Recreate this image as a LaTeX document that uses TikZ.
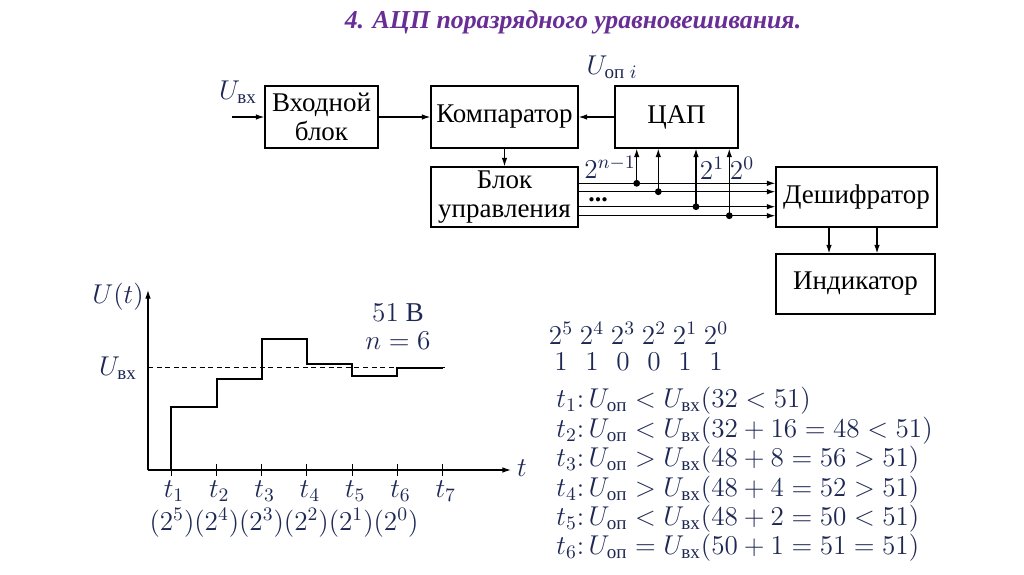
\RequirePackage{fix-cm}
\documentclass[tikz,border=0pt]{standalone}
\usepackage{amsmath}
\usepackage{fontspec}
\setmainfont{Liberation Serif}
\usetikzlibrary{arrows.meta}
\definecolor{formula}{RGB}{30,40,85}
\definecolor{heading}{RGB}{105,45,150}
\tikzset{
  blok/.style={draw, line width=0.6pt, inner sep=0pt, align=center,
    font=\fontsize{13.5}{14.5}\selectfont},
  pil/.style={line width=0.6pt, -{Latex[length=4.3pt,width=2.8pt]}},
  formel/.style={text=formula, inner sep=0pt, font=\fontsize{13.6}{16}\selectfont},
  tap/.style={circle, fill, inner sep=0pt, minimum size=3.4pt},
}

\begin{document}
\begin{tikzpicture}[x=0.5pt, y=-0.5pt]
  \useasboundingbox (0,0) rectangle (1024,574);
  \node[text=heading, font=\fontsize{12.9}{16}\selectfont\bfseries\itshape] (title) at (573,22)
    {4. АЦП поразрядного уравновешивания.};

  \node[blok, minimum width=56.5pt, minimum height=31pt] (vhod) at (321.5,117) {Входной\\блок};
  \node[blok, minimum width=73.5pt, minimum height=31pt] (komp) at (504.5,117) {Компаратор};
  \node[blok, minimum width=61.5pt, minimum height=31pt] (cap) at (676.5,117) {ЦАП};
  \node[blok, minimum width=73.5pt, minimum height=30pt] (upr) at (504.5,197) {Блок\\управления};
  \node[blok, minimum width=80.5pt, minimum height=30pt] (desh) at (856.5,197) {Дешифратор};
  \node[blok, minimum width=79.5pt, minimum height=30pt] (ind) at (855.5,284) {Индикатор};

  \coordinate (uin) at (232,117);
  \node[formel] (uvx) at (238,92) {$U_{\text{вх}}$};
  \node[formel] (uop) at (612,67) {$U_{\text{оп}\;i}$};
  \draw[pil] (uin) -- (vhod);
  \draw[pil] (vhod) -- (komp);
  \draw[pil] (cap) -- (komp);
  \draw[pil] (komp) -- (upr);

  \foreach \x/\y [count=\i] in {636.7/183.3, 658.3/191.7, 696/206.7, 729.3/215.7} {
    \coordinate (T\i) at (\x,\y);
    \draw[pil] (upr.east |- T\i) -- (desh.west |- T\i);
    \node[tap] (d\i) at (T\i) {};
    \draw[pil] (d\i.center) -- (T\i |- cap.south);
  }
  \node[formel] (bn) at (610,167) {$2^{n-1}$};
  \node[formel] (b1) at (712,168) {$2^1$};
  \node[formel] (b0) at (742,168) {$2^0$};
  \node[font=\fontsize{13}{14}\selectfont\bfseries, inner sep=0pt, text height=1.5pt, text depth=0pt]
    (dots) at (598,200) {...};

  \coordinate (i1) at (829,0);
  \coordinate (i2) at (877,0);
  \draw[pil] (desh.south -| i1) -- (ind.north -| i1);
  \draw[pil] (desh.south -| i2) -- (ind.north -| i2);

  \coordinate (o) at (148,470);
  \draw[pil] (o) -- (148,290);
  \draw[pil] (o) -- (511,470);
  \node[formel] (ut) at (118,297) {$U(t)$};
  \node[formel] (tt) at (522,468) {$t$};
  \foreach \i in {1,...,7} {
    \coordinate (t\i) at ({171+45.3*(\i-1)},470);
    \draw[line width=0.5pt] ([yshift=-3pt]t\i) -- ([yshift=3pt]t\i);
    \node[formel] (lt\i) at ({174+45.3*(\i-1)},491) {$t_{\i}$};
  }
  \node[formel] (st) at (284,523) {$(2^5)(2^4)(2^3)(2^2)(2^1)(2^0)$};
  \draw[dashed, dash pattern=on 2.5pt off 1.8pt, line width=0.5pt] (148,367.7) -- (445,367.7);
  \node[formel] (uvx2) at (118,368) {$U_{\text{вх}}$};
  \draw[line width=1pt] (171,470) -- (171,406.7) -- (216.7,406.7) -- (216.7,379)
    -- (261.7,379) -- (261.7,339.3) -- (306.7,339.3) -- (306.7,364.3)
    -- (351.7,364.3) -- (351.7,376.3) -- (397.3,376.3) -- (397.3,368) -- (442.7,368);
  \node[formel] (volt) at (398,313) {$51\ \text{В}$};
  \node[formel] (nn) at (398,341) {$n=6$};

  \foreach \k/\b [count=\i] in {5/1,4/1,3/0,2/0,1/1,0/1} {
    \node[formel] (p\i) at ({561+31*(\i-1)},333) {$2^{\k}$};
    \node[formel] (r\i) at ({561+31*(\i-1)},362) {$\b$};
  }
  \node[formel, anchor=west] (s1) at (556,401) {$t_1{:}\,U_{\text{оп}}<U_{\text{вх}}(32<51)$};
  \node[formel, anchor=west] (s2) at (556,430.4) {$t_2{:}\,U_{\text{оп}}<U_{\text{вх}}(32+16=48<51)$};
  \node[formel, anchor=west] (s3) at (556,459.8) {$t_3{:}\,U_{\text{оп}}>U_{\text{вх}}(48+8=56>51)$};
  \node[formel, anchor=west] (s4) at (556,489.2) {$t_4{:}\,U_{\text{оп}}>U_{\text{вх}}(48+4=52>51)$};
  \node[formel, anchor=west] (s5) at (556,518.6) {$t_5{:}\,U_{\text{оп}}<U_{\text{вх}}(48+2=50<51)$};
  \node[formel, anchor=west] (s6) at (556,548) {$t_6{:}\,U_{\text{оп}}=U_{\text{вх}}(50+1=51=51)$};
\end{tikzpicture}
\end{document}
